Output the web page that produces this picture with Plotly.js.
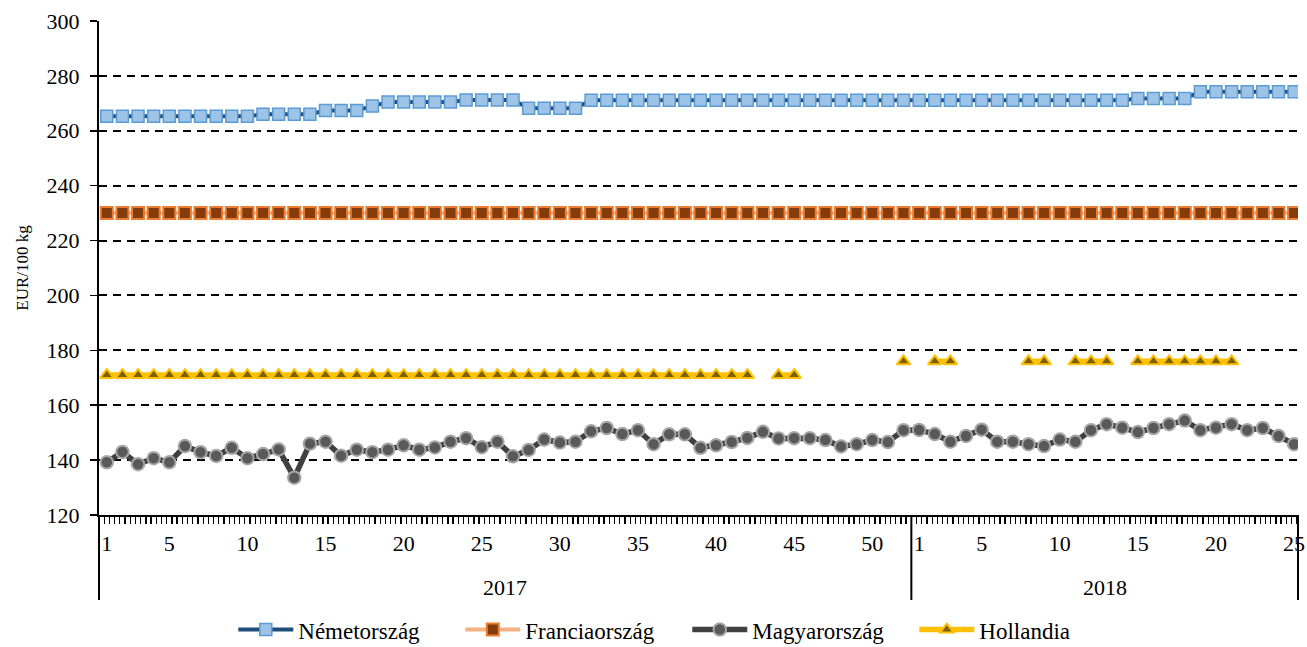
<!DOCTYPE html>
<html>
<head>
<meta charset="utf-8">
<script src="https://cdn.plot.ly/plotly-3.0.1.min.js"></script>
<style>html,body{margin:0;padding:0;background:#fff;}#chart{width:1307px;height:647px;}</style>
</head>
<body>
<div id="chart"></div>
<script>
// Categories: weeks of 2017 and 2018
const weeks2017 = [1,2,3,4,5,6,7,8,9,10,11,12,13,14,15,16,17,18,19,20,21,22,23,24,25,26,27,28,29,30,31,32,33,34,35,36,37,38,39,40,41,42,43,44,45,46,47,48,49,50,51,52];
const weeks2018 = [1,2,3,4,5,6,7,8,9,10,11,12,13,14,15,16,17,18,19,20,21,22,23,24,25];
const years = ["2017", "2018"];
const tickWeeks2017 = [1,5,10,15,20,25,30,35,40,45,50];
const tickWeeks2018 = [1,5,10,15,20,25];

// Series (EUR/100 kg)
const nemetorszag = [
  265.3,265.3,265.3,265.3,265.3,265.3,265.3,265.3,265.3,265.3,
  266.0,266.0,266.0,266.0,267.4,267.4,267.4,269.0,270.5,270.5,
  270.5,270.5,270.5,271.2,271.2,271.2,271.2,268.2,268.2,268.2,
  268.2,271.1,271.1,271.1,271.1,271.1,271.1,271.1,271.1,271.1,
  271.1,271.1,271.1,271.1,271.1,271.1,271.1,271.1,271.1,271.1,
  271.1,271.1,
  271.1,271.1,271.1,271.1,271.1,271.1,271.1,271.1,271.1,271.1,
  271.1,271.1,271.1,271.1,271.8,271.8,271.8,271.8,274.2,274.2,
  274.2,274.2,274.2,274.2,274.2
];
const franciaorszag = [
  230,230,230,230,230,230,230,230,230,230,230,230,230,230,230,230,230,230,230,230,
  230,230,230,230,230,230,230,230,230,230,230,230,230,230,230,230,230,230,230,230,
  230,230,230,230,230,230,230,230,230,230,230,230,
  230,230,230,230,230,230,230,230,230,230,230,230,230,230,230,230,230,230,230,230,
  230,230,230,230,230
];
const magyarorszag = [
  139.2,143.0,138.5,140.7,139.2,145.1,142.9,141.5,144.5,140.7,
  142.2,143.9,133.6,146.0,146.7,141.6,143.8,142.9,143.8,145.4,
  143.8,144.6,146.7,148.0,144.7,146.7,141.4,143.7,147.5,146.4,
  146.7,150.5,151.7,149.5,150.9,145.8,149.4,149.4,144.5,145.4,
  146.6,148.1,150.3,147.9,148.0,148.0,147.3,145.0,145.8,147.3,
  146.6,150.9,
  151.0,149.5,146.7,148.8,151.1,146.7,146.7,145.8,145.1,147.5,
  146.7,150.9,153.1,151.8,150.2,151.7,153.1,154.4,150.9,151.8,
  153.1,150.9,151.7,148.8,145.8
];
const hollandia = [
  171,171,171,171,171,171,171,171,171,171,171,171,171,171,171,171,171,171,171,171,
  171,171,171,171,171,171,171,171,171,171,171,171,171,171,171,171,171,171,171,171,
  171,171,null,171,171,null,null,null,null,null,null,176,
  null,176,176,null,null,null,null,176,176,null,176,176,176,null,176,176,176,176,176,176,
  176,null,null,null,null
];

// Build category index positions
const categories = weeks2017.map(w => years[0] + "-" + w).concat(weeks2018.map(w => years[1] + "-" + w));
const xIdx = categories.map((c, i) => i);
const n2017 = weeks2017.length;
const tickVals = tickWeeks2017.map(w => weeks2017.indexOf(w)).concat(tickWeeks2018.map(w => n2017 + weeks2018.indexOf(w)));
const tickText = tickWeeks2017.map(String).concat(tickWeeks2018.map(String));

const FONT = "Liberation Serif, Times New Roman, serif";

const traces = [
  {name: "Németország", x: xIdx, y: nemetorszag, type: "scatter", mode: "lines+markers",
   line: {color: "#1F4E79", width: 4},
   marker: {symbol: "square", size: 12, color: "#9DC3E6", line: {color: "#5B9BD5", width: 1.5}}},
  {name: "Franciaország", x: xIdx, y: franciaorszag, type: "scatter", mode: "lines+markers",
   line: {color: "#F4B183", width: 4},
   marker: {symbol: "square", size: 12, color: "#843C0C", line: {color: "#ED7D31", width: 2}}},
  {name: "Magyarország", x: xIdx, y: magyarorszag, type: "scatter", mode: "lines+markers",
   line: {color: "#404040", width: 5.5},
   marker: {symbol: "circle", size: 12.5, color: "#595959", line: {color: "#A6A6A6", width: 2}}},
  {name: "Hollandia", x: xIdx, y: hollandia, type: "scatter", mode: "lines+markers", connectgaps: false,
   line: {color: "#FFC000", width: 5.5},
   marker: {symbol: "triangle-up", size: 12, color: "#7F6000", line: {color: "#FFC000", width: 2}}}
];

const sep = n2017 - 0.5;
const xMax = categories.length - 0.75;

const layout = {
  width: 1307, height: 647,
  margin: {l: 99, r: 9, t: 21, b: 132, autoexpand: false},
  paper_bgcolor: "#fff", plot_bgcolor: "#fff",
  font: {family: FONT, color: "#000", size: 22},
  showlegend: true,
  legend: {orientation: "h", x: 0.112, xanchor: "left", y: -0.232, yanchor: "middle",
           font: {family: FONT, size: 23, color: "#000"}, entrywidth: 157, entrywidthmode: "pixels",
           itemwidth: 55, bgcolor: "rgba(0,0,0,0)"},
  xaxis: {
    type: "linear", range: [-0.5, xMax], fixedrange: true,
    tickmode: "array", tickvals: tickVals, ticktext: tickText,
    ticks: "", ticklabelstandoff: 8,
    tickfont: {family: FONT, size: 22, color: "#000"},
    showgrid: false, zeroline: false,
    showline: true, linecolor: "#000", linewidth: 2,
    minor: {tickmode: "linear", tick0: -0.5, dtick: 1/3, ticks: "outside", ticklen: 7, tickwidth: 1.3, tickcolor: "#000", showgrid: false}
  },
  yaxis: {
    range: [120, 300], dtick: 20, tick0: 120, fixedrange: true,
    ticks: "outside", ticklen: 7, tickwidth: 1.5, tickcolor: "#000", ticklabelstandoff: 6,
    tickfont: {family: FONT, size: 22, color: "#000"},
    showgrid: true, gridcolor: "#000", gridwidth: 2, griddash: "8px,6px",
    zeroline: false, showline: true, linecolor: "#000", linewidth: 2,
    title: {text: "EUR/100 kg", font: {family: FONT, size: 17, color: "#000"}, standoff: 14}
  },
  shapes: [
    {type: "line", xref: "paper", yref: "paper", x0: 0, x1: 0, y0: 0, y1: -0.172, line: {color: "#000", width: 2}},
    {type: "line", xref: "x", yref: "paper", x0: sep, x1: sep, y0: 0, y1: -0.172, line: {color: "#000", width: 2}},
    {type: "line", xref: "paper", yref: "paper", x0: 1, x1: 1, y0: 0, y1: -0.172, line: {color: "#000", width: 2}}
  ],
  annotations: [
    {text: years[0], xref: "x", yref: "paper", x: (-0.5 + sep) / 2, y: -0.146, showarrow: false, xanchor: "center", yanchor: "middle",
     font: {family: FONT, size: 22, color: "#000"}},
    {text: years[1], xref: "x", yref: "paper", x: (sep + xMax) / 2, y: -0.146, showarrow: false, xanchor: "center", yanchor: "middle",
     font: {family: FONT, size: 22, color: "#000"}}
  ]
};

Plotly.newPlot("chart", traces, layout, {staticPlot: true, displayModeBar: false});
</script>
</body>
</html>
